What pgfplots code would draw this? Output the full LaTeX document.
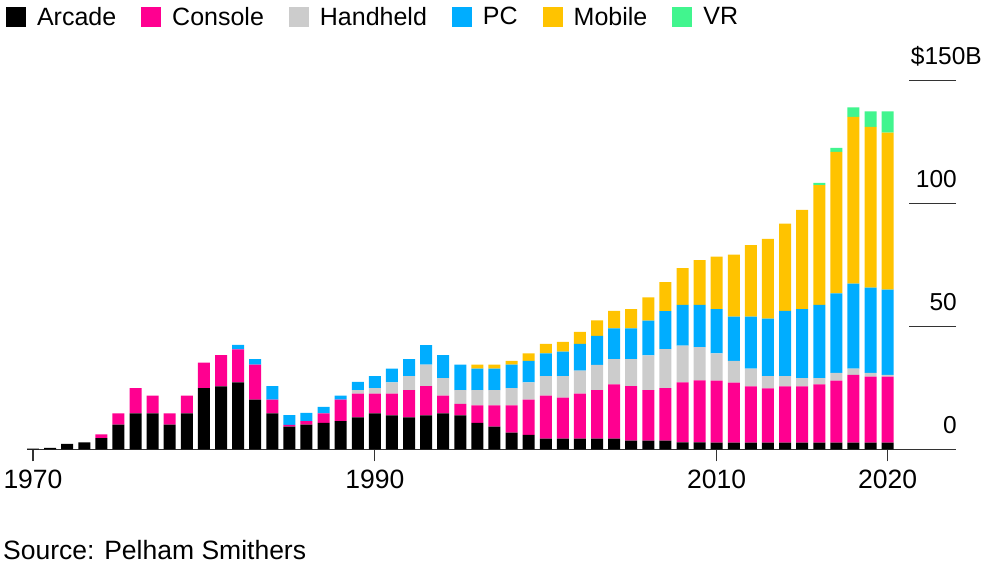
\documentclass[border=0pt]{standalone}
\usepackage{pgfplots}
\usepackage{pgfplotstable}
\pgfplotsset{compat=1.18}
\usepackage{fontspec}
\setmainfont{Liberation Sans}
\newcommand\cf{\fontsize{25bp}{30bp}\selectfont}
\newcommand\cfx{\fontsize{26.5bp}{31bp}\selectfont}
\newcommand\cfy{\fontsize{24.5bp}{29bp}\selectfont}

\definecolor{arcade}{HTML}{000000}
\definecolor{console}{HTML}{FF0090}
\definecolor{handheld}{HTML}{CCCCCC}
\definecolor{pc}{HTML}{00ADFF}
\definecolor{mobile}{HTML}{FFC300}
\definecolor{vr}{HTML}{41F58E}
\definecolor{axisgray}{HTML}{333333}

% Global games revenue by segment, $ billions
\pgfplotstableread{
year arcade console handheld pc mobile vr
1970 0.3 0 0 0 0 0
1971 0.6 0 0 0 0 0
1972 2.2 0 0 0 0 0
1973 2.8 0 0 0 0 0
1974 4.5 1.6 0 0 0 0
1975 10.0 4.6 0 0 0 0
1976 14.6 10.3 0 0 0 0
1977 14.6 7.2 0 0 0 0
1978 10.0 4.6 0 0 0 0
1979 14.6 7.2 0 0 0 0
1980 24.9 10.3 0 0 0 0
1981 25.6 12.7 0 0 0 0
1982 27.2 13.4 0 1.8 0 0
1983 20.2 14.2 0 2.3 0 0
1984 14.6 5.6 0 5.5 0 0
1985 9.2 0.7 0 4.0 0 0
1986 10.0 1.5 0 3.3 0 0
1987 10.7 3.9 0 2.6 0 0
1988 11.5 8.7 0 1.6 0 0
1989 13.0 9.6 1.5 3.3 0 0
1990 14.6 8.0 2.3 4.8 0 0
1991 13.8 8.8 4.6 5.6 0 0
1992 13.0 11.1 5.6 7.0 0 0
1993 13.8 11.9 8.7 7.9 0 0
1994 14.6 7.2 7.1 9.4 0 0
1995 13.8 4.7 5.6 10.3 0 0
1996 10.7 7.2 6.2 8.7 1.6 0
1997 9.2 8.7 6.2 8.7 1.6 0
1998 6.75 11.15 7.0 9.5 1.5 0
1999 5.9 14.3 7.0 8.7 3.1 0
2000 4.3 17.5 7.9 9.3 3.9 0
2001 4.3 16.7 8.7 10.0 4.0 0
2002 4.3 18.3 9.4 10.9 4.8 0
2003 4.3 19.8 10.2 11.8 6.3 0
2004 4.3 22.1 10.3 12.5 7.1 0
2005 3.5 22.2 11.0 12.5 7.8 0
2006 3.5 20.6 14.1 14.1 9.5 0
2007 3.5 21.4 15.8 15.5 11.8 0
2008 2.85 24.4 14.9 16.6 14.9 0
2009 2.85 25.2 13.5 17.2 18.1 0
2010 2.7 25.2 11.1 18.0 21.3 0
2011 2.7 24.4 8.8 18.0 25.2 0
2012 2.7 22.9 7.2 21.1 29.1 0
2013 2.7 22.1 4.9 23.4 32.4 0
2014 2.7 22.9 4.1 26.6 35.4 0
2015 2.7 22.9 3.3 28.1 40.3 0
2016 2.7 23.7 2.5 29.8 48.7 0.9
2017 2.7 25.2 3.2 32.3 57.5 1.6
2018 2.7 27.6 2.5 34.5 67.8 3.9
2019 2.7 26.8 1.6 34.6 65.4 6.3
2020 2.7 26.8 0.8 34.6 63.8 8.7
}\revenue

\begin{document}
\begin{tikzpicture}
\useasboundingbox (0,0) rectangle (987bp,565bp);
\begin{axis}[
  at={(27bp,115.7bp)}, anchor=south west,
  scale only axis,
  width=929bp, height=369bp,
  xmin=1969.65, xmax=2024,
  ymin=0, ymax=150,
  ybar stacked, bar width=12bp,
  axis x line*=bottom, axis y line*=right,
  x axis line style={axisgray, line width=1.2bp},
  y axis line style={draw=none},
  tick align=outside,
  major tick length=12bp,
  xtick={1970,1990,2010,2020},
  xticklabels={1970,1990,2010,2020},
  xtick style={axisgray, line width=1.2bp},
  xticklabel style={anchor=north, inner sep=0pt, yshift=-8bp, font=\cfx},
  ytick={0,50,100},
  yticklabels={0,50,100},
  ytick style={draw=none},
  yticklabel style={anchor=base east, inner sep=0pt, xshift=-11bp, yshift=16bp, font=\cfy},
  extra y ticks={150},
  extra y tick labels={\$150B},
  extra y tick style={yticklabel style={xshift=25bp}},
  /pgf/number format/assume math mode=true,
  legend style={at={(-0.0226,1.1986)}, anchor=north west,
    draw=none, fill=none, inner sep=0pt, outer sep=0pt,
    font=\cf, legend columns=-1,
    nodes={inner sep=0pt},
    /tikz/every odd column/.append style={column sep=11bp},
    /tikz/every even column/.append style={column sep=25bp}},
  legend image code/.code={\fill[#1] (0bp,-10bp) rectangle (20bp,10bp);},
]
\addplot[fill=arcade, draw=none] table[x=year, y=arcade] {\revenue};
\addplot[fill=console, draw=none] table[x=year, y=console] {\revenue};
\addplot[fill=handheld, draw=none] table[x=year, y=handheld] {\revenue};
\addplot[fill=pc, draw=none] table[x=year, y=pc] {\revenue};
\addplot[fill=mobile, draw=none] table[x=year, y=mobile] {\revenue};
\addplot[fill=vr, draw=none] table[x=year, y=vr] {\revenue};
\legend{Arcade, Console, Handheld, PC, Mobile, VR}
% short value rules on the right
\pgfplotsinvokeforeach{50,100,150}{
  \draw[axisgray, line width=1.2bp] (axis cs:2024,#1) -- ++(-47bp,0pt);
}
\end{axis}
\node[anchor=base west, inner sep=0pt, font=\cfx] at (3bp,6bp) {Source: Pelham Smithers};
\end{tikzpicture}
\end{document}
